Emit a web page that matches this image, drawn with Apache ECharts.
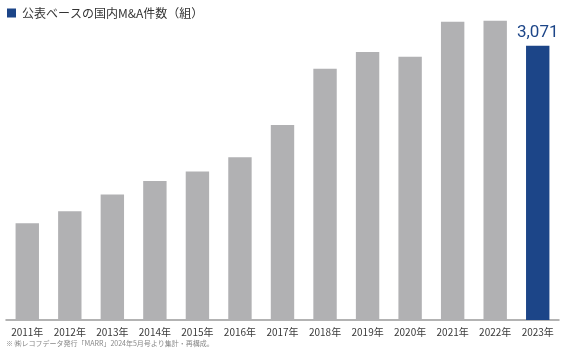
<!DOCTYPE html>
<html>
<head>
<meta charset="utf-8">
<script src="https://cdn.jsdelivr.net/npm/echarts@6/dist/echarts.min.js"></script>
<style>
  html, body { margin: 0; padding: 0; background: #fff; }
  #chart { width: 571px; height: 354px; }
</style>
</head>
<body>
<div id="chart"></div>
<script>
const years = ['2011年', '2012年', '2013年', '2014年', '2015年', '2016年', '2017年',
  '2018年', '2019年', '2020年', '2021年', '2022年', '2023年']
// counts; only 2023 is labelled in the source
const deals = [1084, 1218, 1405, 1558, 1662, 1824, 2183, 2814, 3001, 2948, 3340, 3352, 3071]
const highlightIndex = 12

const GRAY = '#b1b1b3'
const BLUE = '#1c4588'
const FONT = '"Noto Sans CJK JP", "Noto Sans", sans-serif'

const chart = echarts.init(document.getElementById('chart'), null, { renderer: 'canvas' })

chart.setOption({
  backgroundColor: '#fff',
  animation: false,
  textStyle: { fontFamily: FONT },
  title: [
    {
      left: 2,
      top: 0,
      text: '{sq|}{t|公表ベースの国内M&A件数（組）}',
      textStyle: {
        fontWeight: 'normal',
        rich: {
          sq: { width: 9, height: 9, backgroundColor: BLUE },
          t: { fontSize: 12, fontWeight: 'normal', color: '#333', fontFamily: FONT, padding: [0, 0, 0, 6], lineHeight: 16 }
        }
      }
    },
    {
      left: 1,
      bottom: 2,
      text: '※ ㈱レコフデータ発行「MARR」2024年5月号より集計・再構成。',
      textStyle: { fontSize: 7, fontWeight: 'normal', color: '#888', fontFamily: FONT }
    }
  ],
  grid: { left: 6, right: 12, top: 20, bottom: 34 },
  xAxis: {
    type: 'category',
    data: years,
    axisTick: { show: false },
    axisLine: { lineStyle: { color: '#9a9a9a', width: 1.5 } },
    axisLabel: { color: '#3a3a3a', fontSize: 10, margin: 7, interval: 0, fontFamily: FONT }
  },
  yAxis: {
    type: 'value',
    min: 0,
    max: 3360,
    show: false,
    splitLine: { show: false }
  },
  series: [
    {
      type: 'bar',
      barWidth: '55%',
      data: deals.map((v, i) => ({
        value: v,
        itemStyle: { color: i === highlightIndex ? BLUE : GRAY },
        label: i === highlightIndex ? {
          show: true,
          position: 'top',
          distance: 5,
          formatter: (p) => p.value.toLocaleString('en-US'),
          color: BLUE,
          fontSize: 17,
          fontFamily: 'Roboto, "Noto Sans", sans-serif'
        } : { show: false }
      }))
    }
  ]
})
</script>
</body>
</html>
